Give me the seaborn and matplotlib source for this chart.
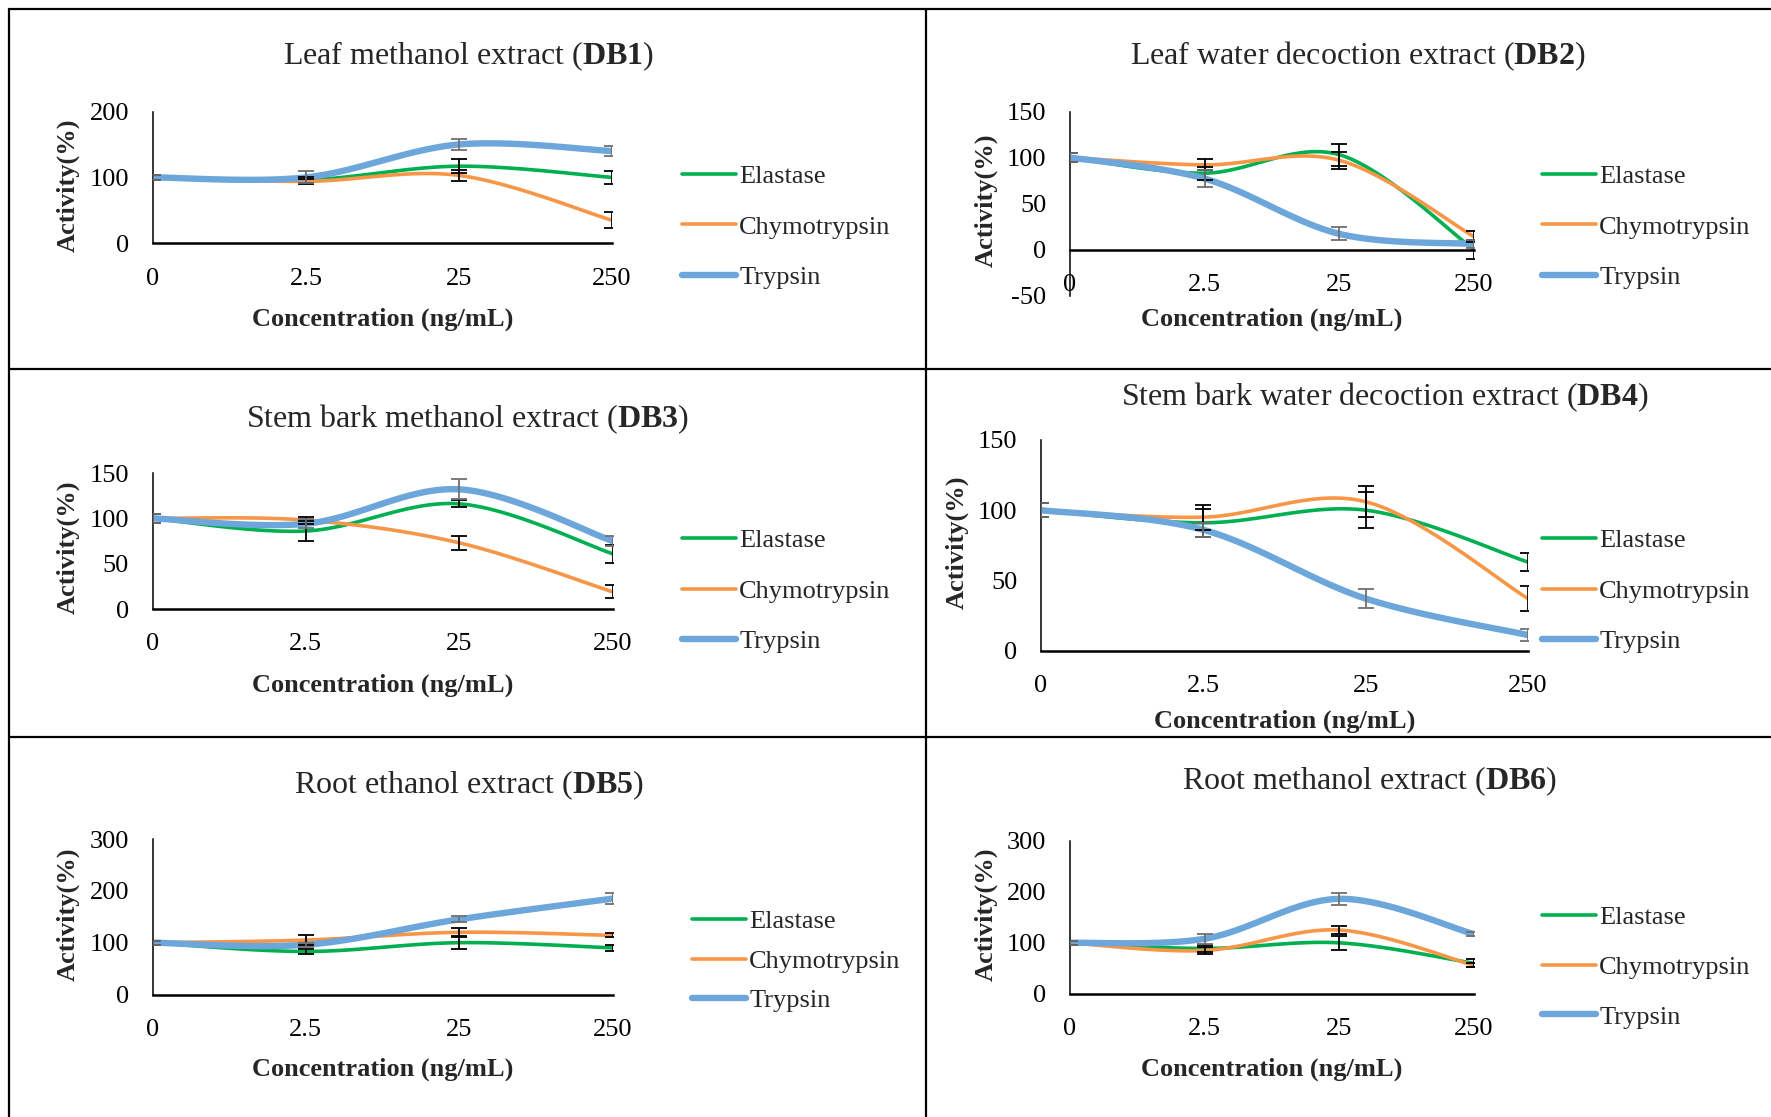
import numpy as np
import matplotlib
matplotlib.use('Agg')
import matplotlib.pyplot as plt
import seaborn as sns
from matplotlib.lines import Line2D

# Konsentrasi (ng/mL) - sumbu kategori
conc_labels = ['0', '2.5', '25', '250']

# DB1 - Leaf methanol extract
db1_elastase = [100, 96, 117, 100]
db1_elastase_sd = [4, 4, 11, 10]
db1_chymo = [100, 94, 103, 35]
db1_chymo_sd = [4, 4, 8, 12]
db1_trypsin = [100, 100, 150, 140]
db1_trypsin_sd = [4, 9, 9, 7]

# DB2 - Leaf water decoction extract
db2_elastase = [100, 83, 103, 0]
db2_elastase_sd = [5, 7, 12, 10]
db2_chymo = [100, 92, 97, 14]
db2_chymo_sd = [5, 6, 9, 6]
db2_trypsin = [100, 77, 17, 6]
db2_trypsin_sd = [5, 9, 7, 4]

# DB3 - Stem bark methanol extract
db3_elastase = [100, 86, 116, 61]
db3_elastase_sd = [5, 11, 4, 10]
db3_chymo = [100, 98, 73, 19]
db3_chymo_sd = [5, 4, 8, 7]
db3_trypsin = [100, 94, 132, 75]
db3_trypsin_sd = [5, 5, 11, 5]

# DB4 - Stem bark water decoction extract
db4_elastase = [100, 91, 100, 63]
db4_elastase_sd = [5, 10, 13, 6.5]
db4_chymo = [100, 95, 106, 37]
db4_chymo_sd = [5, 9, 11, 9]
db4_trypsin = [100, 86, 37, 11]
db4_trypsin_sd = [5, 5, 6.5, 4]

# DB5 - Root ethanol extract
db5_elastase = [100, 83, 100, 90]
db5_elastase_sd = [4, 5, 13, 6]
db5_chymo = [100, 105, 120, 114]
db5_chymo_sd = [4, 9, 9, 4]
db5_trypsin = [100, 96, 145, 185]
db5_trypsin_sd = [4, 4, 6, 10]

# DB6 - Root methanol extract
db6_elastase = [100, 89, 100, 60]
db6_elastase_sd = [4, 6, 14, 8]
db6_chymo = [100, 85, 125, 56]
db6_chymo_sd = [4, 6, 8, 4]
db6_trypsin = [100, 108, 186, 117]
db6_trypsin_sd = [4, 10, 12, 4]

W, H = 1771, 1117
sns.set_style('white')
plt.rcParams['font.family'] = ['Liberation Serif', 'DejaVu Serif']
plt.rcParams['mathtext.fontset'] = 'custom'
plt.rcParams['mathtext.rm'] = 'Liberation Serif'
plt.rcParams['mathtext.bf'] = 'Liberation Serif:bold'
plt.rcParams['axes.unicode_minus'] = False

warna = {'Elastase': '#00B050', 'Chymotrypsin': '#F79646', 'Trypsin': '#6CA6DA'}
tebal = {'Elastase': 2.6, 'Chymotrypsin': 2.6, 'Trypsin': 4.6}
warna_err = {'Elastase': 'black', 'Chymotrypsin': 'black', 'Trypsin': '#707070'}


def smooth(y, n=40):
    # kurva halus ala Excel (Catmull-Rom / Bezier)
    p = np.column_stack([np.arange(len(y)), np.array(y, dtype=float)])
    xs, ys = [], []
    for i in range(len(p) - 1):
        p0 = p[max(i - 1, 0)]
        p1 = p[i]
        p2 = p[i + 1]
        p3 = p[min(i + 2, len(p) - 1)]
        c1 = p1 + (p2 - p0) / 6
        c2 = p2 - (p3 - p1) / 6
        t = np.linspace(0, 1, n)[:, None]
        b = (1 - t) ** 3 * p1 + 3 * (1 - t) ** 2 * t * c1 + 3 * (1 - t) * t ** 2 * c2 + t ** 3 * p2
        xs.extend(b[:, 0])
        ys.extend(b[:, 1])
    return np.array(xs), np.array(ys)


def fx(px):
    return px / W


def fy(py):
    return 1 - py / H


panels = [
    dict(judul='Leaf methanol extract', kode='DB1',
         seri=[db1_elastase, db1_chymo, db1_trypsin], sd=[db1_elastase_sd, db1_chymo_sd, db1_trypsin_sd],
         box=(153, 612, 111.5, 243.3), ylim=(0, 200), yt=[0, 100, 200],
         title=(469, 56), xlab=(383, 319), ylab=(68, 185), leg=(682, 227, 1.02)),
    dict(judul='Leaf water decoction extract', kode='DB2',
         seri=[db2_elastase, db2_chymo, db2_trypsin], sd=[db2_elastase_sd, db2_chymo_sd, db2_trypsin_sd],
         box=(1070, 1474, 111.5, 295.5), ylim=(-50, 150), yt=[-50, 0, 50, 100, 150],
         title=(1358, 56), xlab=(1272, 319), ylab=(986, 200), leg=(1542, 227, 1.02)),
    dict(judul='Stem bark methanol extract', kode='DB3',
         seri=[db3_elastase, db3_chymo, db3_trypsin], sd=[db3_elastase_sd, db3_chymo_sd, db3_trypsin_sd],
         box=(152.5, 612.5, 473, 609), ylim=(0, 150), yt=[0, 50, 100, 150],
         title=(468, 419), xlab=(383, 685), ylab=(68, 547), leg=(682, 591, 1.02)),
    dict(judul='Stem bark water decoction extract', kode='DB4',
         seri=[db4_elastase, db4_chymo, db4_trypsin], sd=[db4_elastase_sd, db4_chymo_sd, db4_trypsin_sd],
         box=(1041, 1528, 440, 650.5), ylim=(0, 150), yt=[0, 50, 100, 150],
         title=(1385, 397), xlab=(1285, 721), ylab=(957, 542), leg=(1542, 591, 1.02)),
    dict(judul='Root ethanol extract', kode='DB5',
         seri=[db5_elastase, db5_chymo, db5_trypsin], sd=[db5_elastase_sd, db5_chymo_sd, db5_trypsin_sd],
         box=(152.5, 612.5, 839, 994.5), ylim=(0, 300), yt=[0, 100, 200, 300],
         title=(469, 785), xlab=(383, 1069), ylab=(68, 914), leg=(692, 961, 0.6)),
    dict(judul='Root methanol extract', kode='DB6',
         seri=[db6_elastase, db6_chymo, db6_trypsin], sd=[db6_elastase_sd, db6_chymo_sd, db6_trypsin_sd],
         box=(1070, 1474, 840.5, 994), ylim=(0, 300), yt=[0, 100, 200, 300],
         title=(1369.5, 781), xlab=(1272, 1069), ylab=(986, 914), leg=(1542, 967, 1.0)),
]

nama = ['Elastase', 'Chymotrypsin', 'Trypsin']
fig = plt.figure(figsize=(W / 100, H / 100), dpi=100)

for p in panels:
    x0, x1, yt_, yb_ = p['box']
    ax = fig.add_axes([fx(x0), fy(yb_), (x1 - x0) / W, (yb_ - yt_) / H])
    ax.set_facecolor('none')
    idx = np.arange(len(conc_labels))
    for nm, y, e in zip(nama, p['seri'], p['sd']):
        xs, ys = smooth(y)
        sns.lineplot(x=xs, y=ys, ax=ax, sort=False, estimator=None, color=warna[nm],
                     linewidth=tebal[nm], label=nm, zorder=2)
    for nm, y, e in zip(nama, p['seri'], p['sd']):
        ax.errorbar(idx, y, yerr=e, fmt='none', ecolor=warna_err[nm], elinewidth=1.3,
                    capsize=5.8, capthick=1.3, zorder=3)
    ax.set_xlim(0, 3)
    ax.set_ylim(*p['ylim'])
    ax.set_xticks(idx)
    ax.set_xticklabels(conc_labels)
    ax.set_yticks(p['yt'])
    ax.tick_params(axis='both', direction='in', length=6, width=1.2, labelsize=19, colors='black')
    ax.tick_params(axis='x', pad=17.5)
    ax.tick_params(axis='y', pad=17)
    for s in ['top', 'right']:
        ax.spines[s].set_visible(False)
    ax.spines['left'].set_linewidth(1.1)
    ax.spines['bottom'].set_linewidth(1.8)
    ax.spines['left'].set_color('black')
    ax.spines['bottom'].set_color('black')
    if p['ylim'][0] < 0:
        ax.spines['bottom'].set_position(('data', 0))

    ax.set_xlabel('Concentration (ng/mL)', fontsize=19, fontweight='bold', va='center')
    ax.xaxis.set_label_coords(fx(p['xlab'][0]), fy(p['xlab'][1]), transform=fig.transFigure)
    ax.set_ylabel('Activity(%)', fontsize=19, fontweight='bold', va='center', ha='center')
    ax.yaxis.set_label_coords(fx(p['ylab'][0]), fy(p['ylab'][1]), transform=fig.transFigure)

    fig.text(fx(p['title'][0]), fy(p['title'][1]), p['judul'] + r' ($\mathbf{' + p['kode'] + r'}$)',
             fontsize=23, ha='center', va='center')

    hx, hy, ls = p['leg']
    ax.legend(loc='center left', bbox_to_anchor=(fx(hx), fy(hy)), bbox_transform=fig.transFigure,
              frameon=False, fontsize=19, handlelength=2.05, handletextpad=0.12,
              borderpad=0, borderaxespad=0, labelspacing=ls)

# Garis bingkai antar panel
for xa, ya, xb, yb in [(9, 9, W, 9), (9, 9, 9, H), (926, 9, 926, H), (9, 369, W, 369), (9, 737, W, 737)]:
    fig.add_artist(Line2D([fx(xa), fx(xb)], [fy(ya), fy(yb)], transform=fig.transFigure,
                          color='black', linewidth=1.6))

plt.savefig('out.png', dpi=100)
